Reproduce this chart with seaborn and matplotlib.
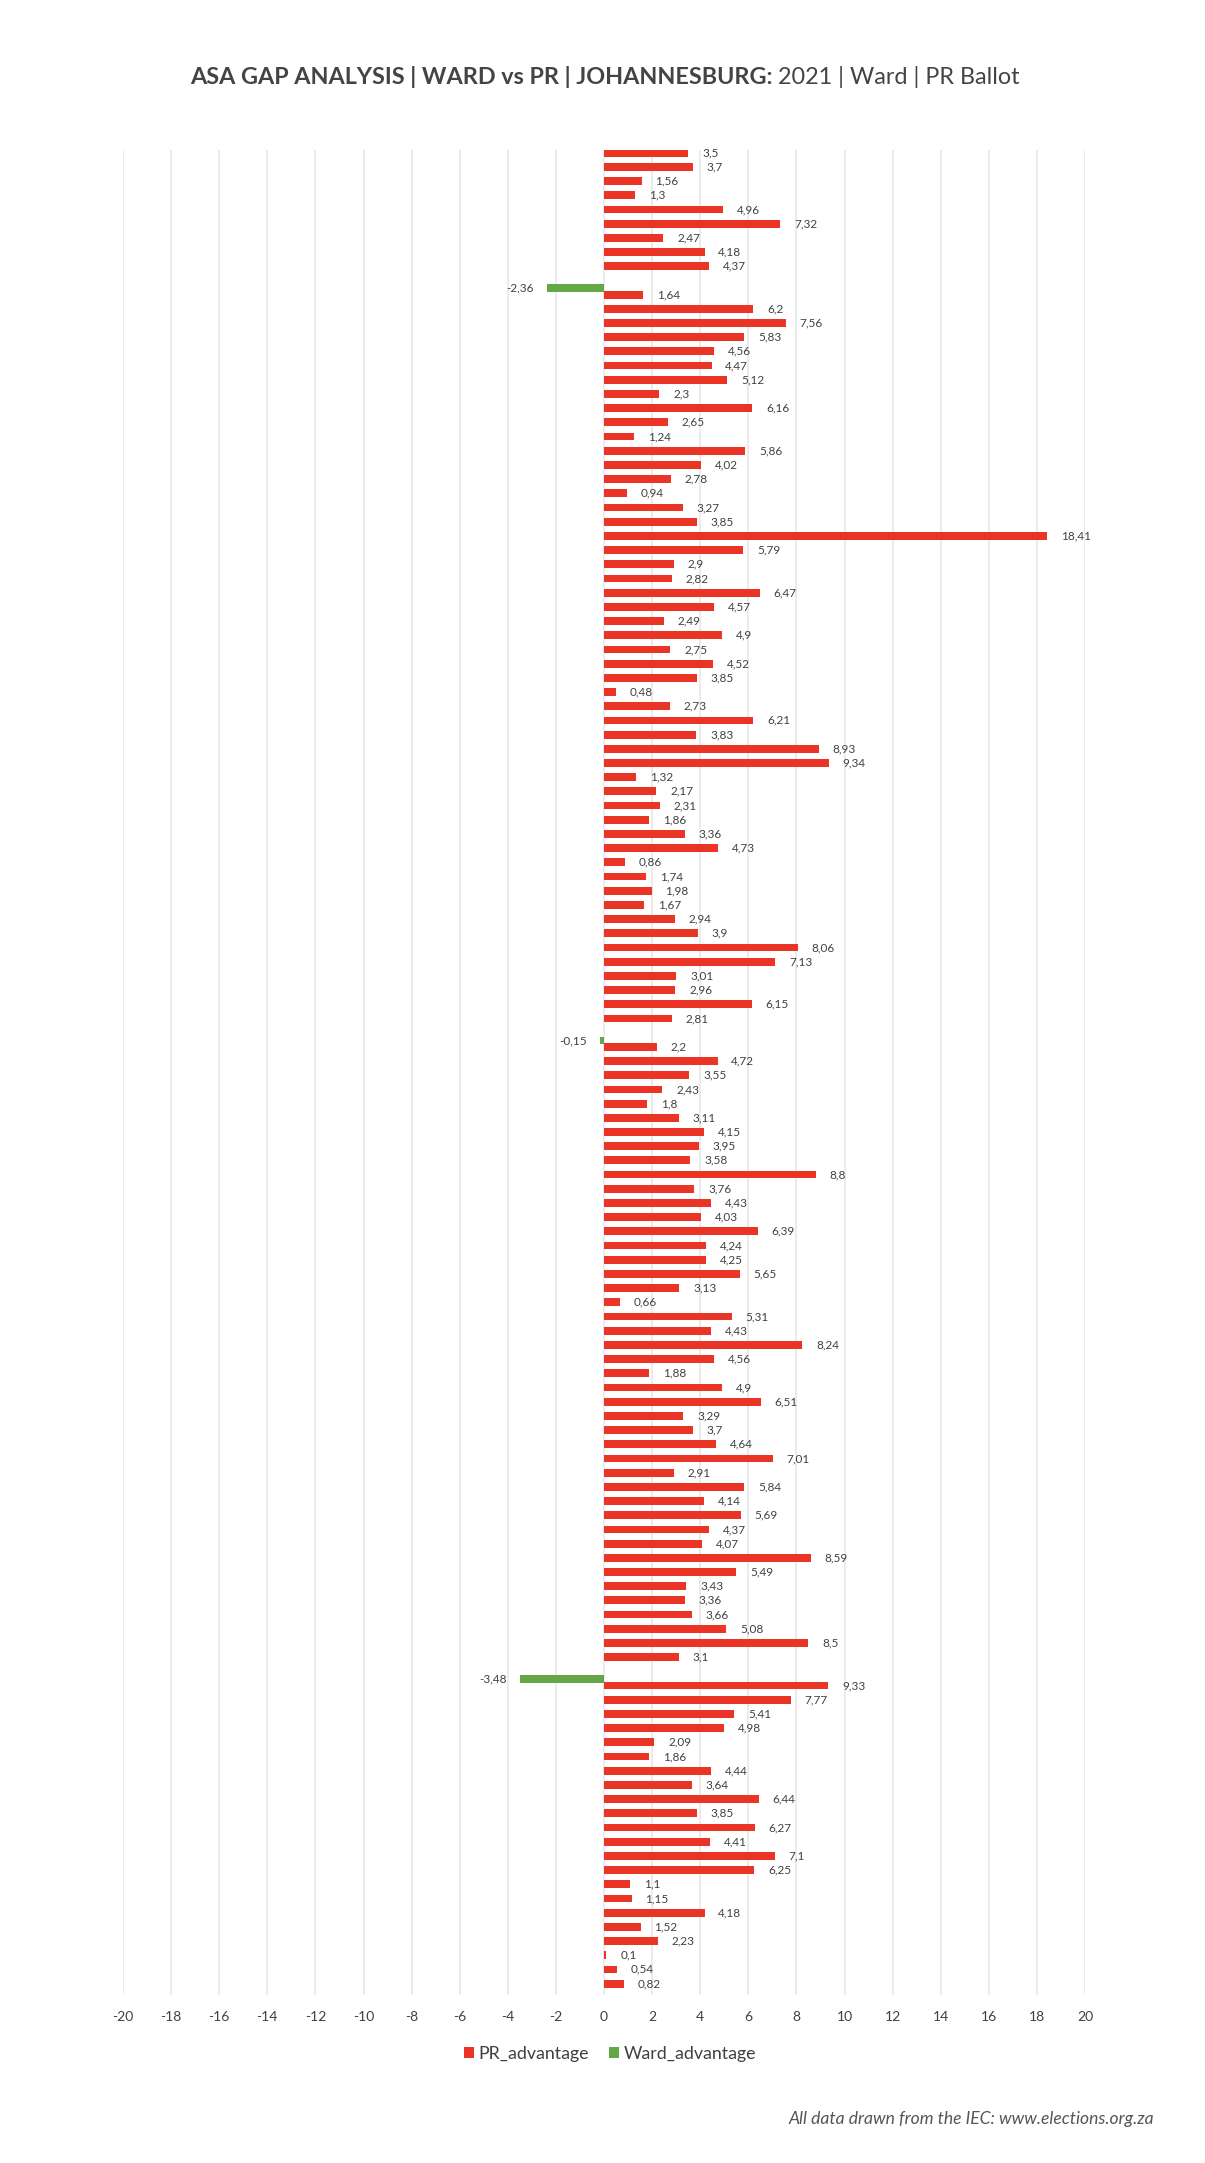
import numpy as np
import pandas as pd
import matplotlib
matplotlib.use("Agg")
import matplotlib.pyplot as plt
import seaborn as sns

# Verschil PR vs Ward per wyk (Johannesburg 2021)
pr_advantage = [3.5, 3.7, 1.56, 1.3, 4.96, 7.32, 2.47, 4.18, 4.37, 0, 1.64, 6.2, 7.56, 5.83, 4.56, 4.47,
                5.12, 2.3, 6.16, 2.65, 1.24, 5.86, 4.02, 2.78, 0.94, 3.27, 3.85, 18.41, 5.79, 2.9, 2.82,
                6.47, 4.57, 2.49, 4.9, 2.75, 4.52, 3.85, 0.48, 2.73, 6.21, 3.83, 8.93, 9.34, 1.32, 2.17,
                2.31, 1.86, 3.36, 4.73, 0.86, 1.74, 1.98, 1.67, 2.94, 3.9, 8.06, 7.13, 3.01, 2.96, 6.15,
                2.81, 0, 2.2, 4.72, 3.55, 2.43, 1.8, 3.11, 4.15, 3.95, 3.58, 8.8, 3.76, 4.43, 4.03, 6.39,
                4.24, 4.25, 5.65, 3.13, 0.66, 5.31, 4.43, 8.24, 4.56, 1.88, 4.9, 6.51, 3.29, 3.7, 4.64,
                7.01, 2.91, 5.84, 4.14, 5.69, 4.37, 4.07, 8.59, 5.49, 3.43, 3.36, 3.66, 5.08, 8.5, 3.1,
                0, 9.33, 7.77, 5.41, 4.98, 2.09, 1.86, 4.44, 3.64, 6.44, 3.85, 6.27, 4.41, 7.1, 6.25,
                1.1, 1.15, 4.18, 1.52, 2.23, 0.1, 0.54, 0.82]
ward_rows = [10, 63, 108]          # wards where ward ballot beat PR
ward_values = [-2.36, -0.15, -3.48]

series = ["PR_advantage", "Ward_advantage"]
colours = ["#EA3426", "#65A744"]
x_ticks = list(range(-20, 21, 2))

n = len(pr_advantage)
wards = [str(i) for i in range(1, n + 1)]
ward_advantage = [0.0] * n
for w, v in zip(ward_rows, ward_values):
    ward_advantage[w - 1] = v

df = pd.DataFrame({
    "ward": wards * 2,
    "series": [series[0]] * n + [series[1]] * n,
    "value": pr_advantage + ward_advantage,
})

sns.set_style("white")
plt.rcParams["font.family"] = ["Lato", "DejaVu Sans"]

fig = plt.figure(figsize=(12.05, 21.63), dpi=100)
ax = fig.add_axes([123 / 1205, 1 - 1994.6 / 2163, 962 / 1205, (1994.6 - 149.5) / 2163])

sns.barplot(data=df, y="ward", x="value", hue="series", order=wards, hue_order=series,
            palette=colours, saturation=1, orient="h", width=1.1, errorbar=None, linewidth=0,
            legend=True, ax=ax)

for cont in ax.containers:
    labels = []
    for bar in cont:
        v = bar.get_width()
        labels.append("" if v == 0 else f"{v:g}".replace(".", ","))
    ax.bar_label(cont, labels=labels, padding=10, fontsize=8.5, color="#404040")

ax.set_xlim(-20, 20)
ax.set_ylim(n - 0.5, -0.5)
ax.set_xticks(x_ticks)
ax.set_xticklabels([str(t) for t in x_ticks], fontsize=10, color="#404040")
ax.tick_params(axis="x", length=0, pad=12)
ax.set_yticks([])
ax.set_xlabel("")
ax.set_ylabel("")
for s in ax.spines.values():
    s.set_visible(False)
ax.grid(axis="x", color="#ebebeb", linewidth=1.4)
ax.set_axisbelow(True)

handles, labs = ax.get_legend_handles_labels()
ax.legend(handles, labs, loc="center", bbox_to_anchor=(610 / 1205, 1 - 2054 / 2163),
          bbox_transform=fig.transFigure, ncol=2, frameon=False, fontsize=12.8,
          handlelength=0.6, handleheight=0.6, handletextpad=0.25, columnspacing=1.1,
          labelcolor="#404040")

# title: bold part + regular part, centred together
renderer = fig.canvas.get_renderer()
t1 = fig.text(0, 1 - 77 / 2163, "ASA GAP ANALYSIS | WARD vs PR | JOHANNESBURG:", fontsize=16.8,
              fontweight="bold", color="#444444", va="center")
t2 = fig.text(0, 1 - 77 / 2163, " 2021 | Ward | PR Ballot", fontsize=16.8, color="#444444", va="center")
w1 = t1.get_window_extent(renderer).width / 1205
w2 = t2.get_window_extent(renderer).width / 1205
x0 = 0.5 - (w1 + w2) / 2 + 0.002
t1.set_x(x0)
t2.set_x(x0 + w1)

fig.text(1154 / 1205, 1 - 2119 / 2163, "All data drawn from the IEC: www.elections.org.za",
         fontsize=12.6, style="italic", color="#555555", ha="right", va="center")

fig.savefig("out.png", dpi=100)
